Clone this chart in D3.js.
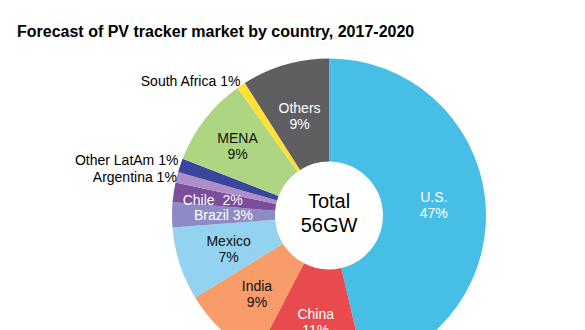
<!DOCTYPE html>
<html>
<head>
<meta charset="utf-8">
<script src="https://cdn.jsdelivr.net/npm/d3@7"></script>
<style>
  html, body { margin: 0; padding: 0; background: #fff; }
  svg { display: block; font-family: "Liberation Sans", Arial, sans-serif; }
</style>
</head>
<body>
<svg id="chart" width="585" height="330"></svg>
<script>
// ---- data ----
const categories = ["U.S.", "China", "India", "Mexico", "Brazil", "Chile", "Argentina", "Other LatAm", "MENA", "South Africa", "Others"];
const shares     = [46.3, 11.3, 8.6, 7.5, 2.6, 2.0, 1.1, 1.4, 9.2, 0.9, 9.0];
const pctLabels  = ["47%", "11%", "9%", "7%", "3%", "2%", "1%", "1%", "9%", "1%", "9%"];
const colors     = ["#47BEE6", "#E84B4E", "#F89C6A", "#93D3EF", "#8D8BC5", "#7B4E9C", "#AF8DC9", "#39469D", "#AED581", "#FFE135", "#5F5F61"];
const title = "Forecast of PV tracker market by country, 2017-2020";
const totalLabel = ["Total", "56GW"];

// label styles
const insideStacked = {"U.S.": "#fff", "China": "#fff", "Others": "#fff", "India": "#111", "Mexico": "#111", "MENA": "#111"};
const insideInline  = {"Brazil": "#fff", "Chile": "#fff"};
const outside = ["Argentina", "Other LatAm", "South Africa"];

const svg = d3.select("#chart");
const cx = 329, cy = 215.5, R = 157, r0 = 54;

svg.append("text")
  .attr("x", 17).attr("y", 37)
  .attr("font-size", 16).attr("font-weight", "bold").attr("fill", "#000")
  .text(title);

const data = categories.map((c, i) => ({cat: c, value: shares[i], pct: pctLabels[i], color: colors[i]}));

const pie = d3.pie().sort(null).value(d => d.value);
const arcs = pie(data);
const arc = d3.arc().innerRadius(r0).outerRadius(R);

const g = svg.append("g").attr("transform", `translate(${cx},${cy})`);

g.selectAll("path.slice").data(arcs).enter().append("path")
  .attr("class", "slice")
  .attr("d", arc)
  .attr("fill", d => d.data.color);

const center = g.append("text").attr("text-anchor", "middle").attr("font-size", 20).attr("fill", "#000");
center.append("tspan").attr("x", 0).attr("y", -7.5).text(totalLabel[0]);
center.append("tspan").attr("x", 0).attr("y", 16.5).text(totalLabel[1]);

// small label nudges
const adj = {"MENA": [-8, -6.5], "Chile": [-12, 0], "Other LatAm": [1, -4], "Argentina": [3, 1], "South Africa": [1, -2]};
arcs.forEach(a => {
  const c = a.data.cat;
  const [x0, y0] = arc.centroid(a);
  const [ax, ay] = adj[c] || [0, 0];
  const x = x0 + ax, y = y0 + ay;
  if (insideStacked[c]) {
    const t = g.append("text").attr("text-anchor", "middle").attr("font-size", 14).attr("fill", insideStacked[c]);
    t.append("tspan").attr("x", x).attr("y", y - 1.5).text(c);
    t.append("tspan").attr("x", x).attr("y", y + 14.5).text(a.data.pct);
  } else if (insideInline[c]) {
    g.append("text").attr("text-anchor", "middle").attr("font-size", 14).attr("fill", insideInline[c])
      .attr("x", x).attr("y", y + 5)
      .style("white-space", "pre")
      .text(c === "Chile" ? c + "  " + a.data.pct : c + " " + a.data.pct);
  } else if (outside.includes(c)) {
    const mid = (a.startAngle + a.endAngle) / 2;
    const rr = R + 3;
    const px = Math.sin(mid) * rr + ax, py = -Math.cos(mid) * rr + ay;
    g.append("text").attr("text-anchor", "end").attr("font-size", 14).attr("fill", "#000")
      .attr("x", px).attr("y", py + 5)
      .text(c + " " + a.data.pct);
  }
});
</script>
</body>
</html>
